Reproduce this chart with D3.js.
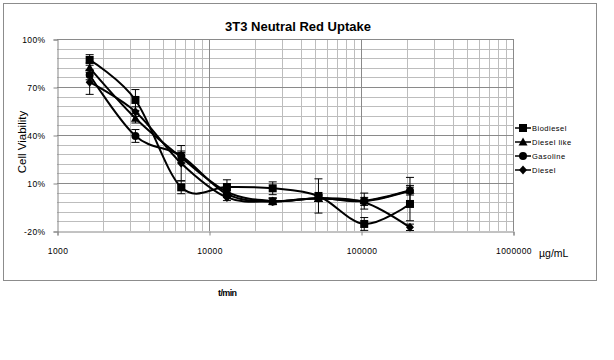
<!DOCTYPE html>
<html><head><meta charset="utf-8">
<script src="https://cdn.jsdelivr.net/npm/d3@7"></script>
<style>
html,body{margin:0;padding:0;background:#fff;}
text{font-family:"Liberation Sans",Arial,sans-serif;}
</style></head>
<body><svg id="c" width="614" height="360"></svg>
<script>
const concentrations = [1640, 3281, 6563, 13125, 26250, 52500, 105000, 210000];
const seriesNames = ["Biodiesel", "Diesel like", "Gasoline", "Diesel"];
const markers = ["square", "triangle", "circle", "diamond"];
const biodiesel     = [86.9, 61.9, 7.3, 7.5, 6.7, 1.9, -15.6, -3.1];
const biodieselErr  = [3.3, 6.5, 4.0, 4.5, 4.0, 10.7, 4.0, 10.5];
const dieselLike    = [82.0, 50.5, 26.0, 4.5, -1.3, 0.5, -1.0, 5.5];
const dieselLikeErr = [3.0, 3.0, 3.0, 3.0, 2.0, 2.0, 2.0, 3.0];
const gasoline      = [77.5, 39.4, 27.0, 3.0, -1.5, 0.5, -1.3, 5.2];
const gasolineErr   = [3.0, 4.0, 3.0, 2.0, 2.0, 2.0, 5.0, 8.3];
const diesel        = [73.0, 54.6, 22.4, 1.0, -1.5, 0.5, -2.0, -17.7];
const dieselErr     = [7.6, 3.0, 11.0, 2.0, 2.0, 2.0, 2.0, 2.0];
const yTicks = [-20, 10, 40, 70, 100];
const xTicks = [1000, 10000, 100000, 1000000];

const values = [biodiesel, dieselLike, gasoline, diesel];
const errs = [biodieselErr, dieselLikeErr, gasolineErr, dieselErr];

const svg = d3.select("#c");
const x = d3.scaleLog().domain([1000, 1000000]).range([57, 513]);
const y = d3.scaleLinear().domain([-20, 100]).range([231, 39]);

// outer chart border
svg.append("rect").attr("x", 3.5).attr("y", 3.5).attr("width", 593).attr("height", 277)
  .attr("fill", "none").attr("stroke", "#8c8c8c").attr("stroke-width", 1);

// title
svg.append("text").attr("x", 298).attr("y", 31).attr("text-anchor", "middle")
  .attr("font-size", "13px").attr("font-weight", "bold").text("3T3 Neutral Red Uptake");

// grid
const g = svg.append("g");
const minorX = [];
for (let k = 3; k < 6; k++) for (let i = 2; i <= 9; i++) minorX.push(i * Math.pow(10, k));
const minorY = d3.range(-20, 100.1, 6).filter(v => !yTicks.includes(Math.round(v)));
g.selectAll(".mx").data(minorX).join("line")
  .attr("x1", d => Math.round(x(d)) + 0.5).attr("x2", d => Math.round(x(d)) + 0.5)
  .attr("y1", y(100)).attr("y2", y(-20)).attr("stroke", "#bdbdbd");
g.selectAll(".my").data(minorY).join("line")
  .attr("y1", d => Math.round(y(d)) + 0.5).attr("y2", d => Math.round(y(d)) + 0.5)
  .attr("x1", x(1000)).attr("x2", x(1000000)).attr("stroke", "#bdbdbd");
g.selectAll(".Mx").data(xTicks.slice(1)).join("line")
  .attr("x1", d => Math.round(x(d)) + 0.5).attr("x2", d => Math.round(x(d)) + 0.5)
  .attr("y1", y(100)).attr("y2", y(-20)).attr("stroke", "#8a8a8a");
g.selectAll(".My").data(yTicks.slice(1)).join("line")
  .attr("y1", d => Math.round(y(d)) + 0.5).attr("y2", d => Math.round(y(d)) + 0.5)
  .attr("x1", x(1000)).attr("x2", x(1000000)).attr("stroke", "#8a8a8a");

// axes
const yAxis = svg.append("g").attr("transform", "translate(57.5,0.5)")
  .call(d3.axisLeft(y).tickValues(yTicks).tickFormat(d => d + "%").tickSize(4).tickPadding(8));
const xAxis = svg.append("g").attr("transform", "translate(0.5,231.5)")
  .call(d3.axisBottom(x).tickValues(xTicks).tickFormat(d3.format("d")).tickSize(4).tickPadding(12));
[yAxis, xAxis].forEach(a => {
  a.select(".domain").attr("stroke", "#868686");
  a.selectAll(".tick line").attr("stroke", "#868686");
  a.selectAll(".tick text").attr("fill", "#000")
    .attr("font-family", "'DejaVu Sans',sans-serif").attr("font-size", "8.5px")
    .attr("letter-spacing", "0.4");
});

// axis titles
svg.append("text").attr("transform", "translate(26,142) rotate(-90)").attr("text-anchor", "middle")
  .attr("font-size", "11.5px").text("Cell  Viability");
svg.append("text").attr("x", 539).attr("y", 257).attr("font-size", "10.5px").text("µg/mL");
svg.append("text").attr("x", 218).attr("y", 296).attr("font-size", "9px").attr("font-weight", "bold")
  .attr("letter-spacing", "-0.6").text("t/min");

// marker symbol helper
function drawMarker(sel, type, cx, cy) {
  if (type === "square") sel.append("rect").attr("x", cx - 4).attr("y", cy - 4).attr("width", 8).attr("height", 8);
  else if (type === "triangle") sel.append("path").attr("d", `M${cx},${cy - 4.5}L${cx + 4.5},${cy + 3.5}L${cx - 4.5},${cy + 3.5}Z`);
  else if (type === "circle") sel.append("circle").attr("cx", cx).attr("cy", cy).attr("r", 4);
  else sel.append("path").attr("d", `M${cx},${cy - 4.5}L${cx + 4},${cy}L${cx},${cy + 4.5}L${cx - 4},${cy}Z`);
}

const line = d3.line().x(d => x(d[0])).y(d => y(d[1])).curve(d3.curveCardinal.tension(0));
const plot = svg.append("g");

values.forEach((vals, si) => {
  const pts = concentrations.map((c, i) => [c, vals[i]]);
  const eb = plot.append("g").attr("stroke", "#000").attr("stroke-width", 1);
  pts.forEach((p, i) => {
    const e = errs[si][i];
    const cx = x(p[0]);
    const y1 = y(p[1] + e), y2 = y(p[1] - e);
    eb.append("line").attr("x1", cx).attr("x2", cx).attr("y1", y1).attr("y2", y2);
    eb.append("line").attr("x1", cx - 4).attr("x2", cx + 4).attr("y1", y1).attr("y2", y1);
    eb.append("line").attr("x1", cx - 4).attr("x2", cx + 4).attr("y1", y2).attr("y2", y2);
  });
  plot.append("path").datum(pts).attr("d", line).attr("fill", "none")
    .attr("stroke", "#000").attr("stroke-width", 2);
  const mg = plot.append("g").attr("fill", "#000");
  pts.forEach(p => drawMarker(mg, markers[si], x(p[0]), y(p[1])));
});

// legend
const lg = svg.append("g");
seriesNames.forEach((name, i) => {
  const ly = 128 + i * 14;
  lg.append("line").attr("x1", 515).attr("x2", 531).attr("y1", ly).attr("y2", ly)
    .attr("stroke", "#000").attr("stroke-width", 1.5);
  const mg = lg.append("g").attr("fill", "#000");
  drawMarker(mg, markers[i], 523, ly);
  lg.append("text").attr("x", 532).attr("y", ly + 3).attr("font-size", "7.5px")
    .attr("letter-spacing", "0.5").text(name);
});
</script></body></html>
